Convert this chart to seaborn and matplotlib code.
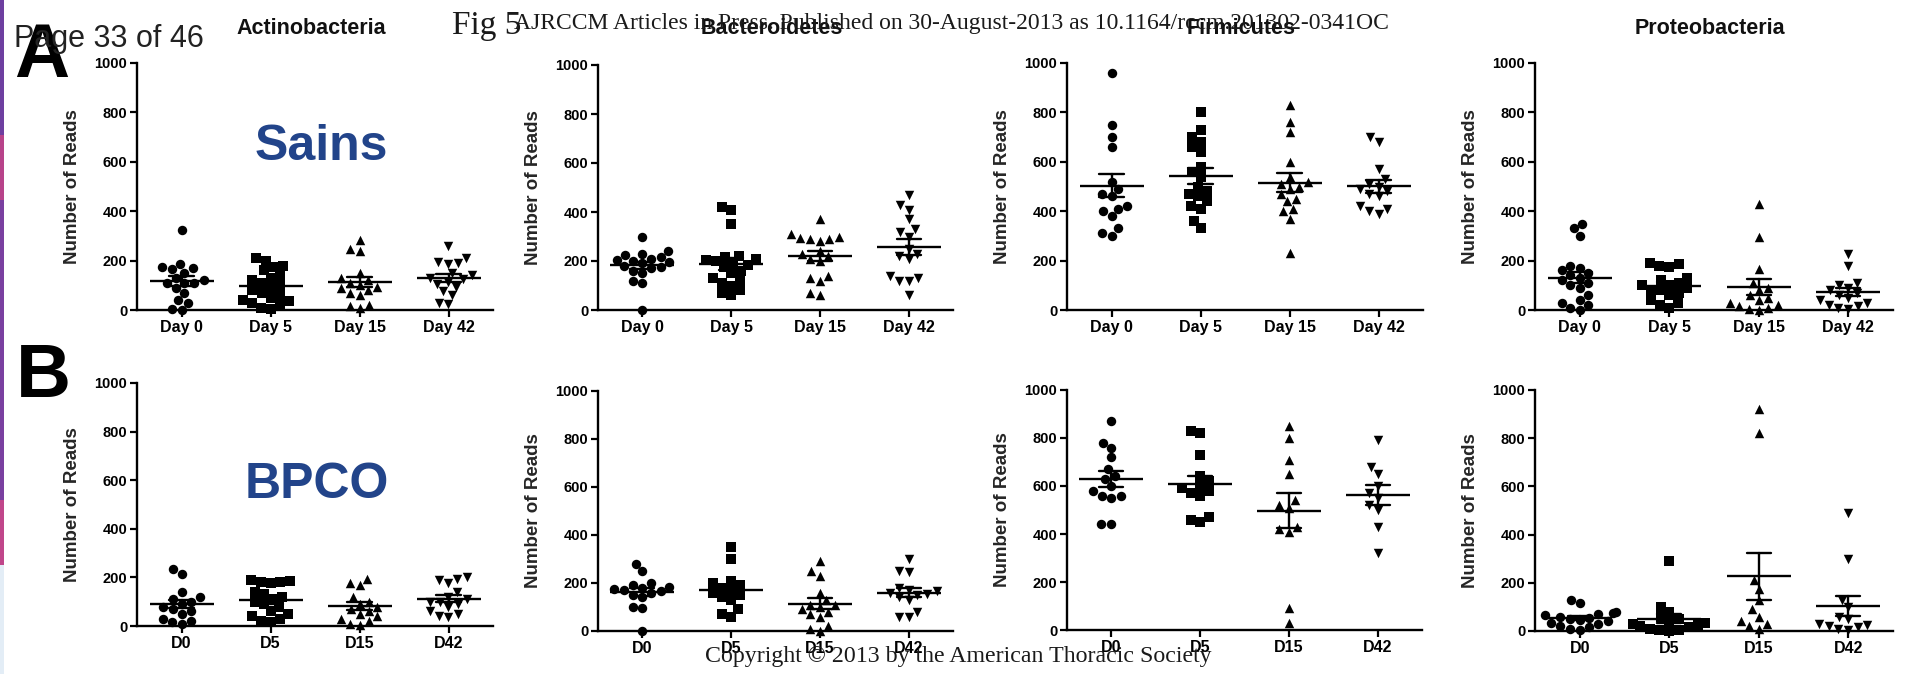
import numpy as np
import pandas as pd
import matplotlib
matplotlib.use("Agg")
import matplotlib.pyplot as plt
import seaborn as sns
from matplotlib.patches import Rectangle

# ---------------- data ----------------
phyla = ["Actinobacteria", "Bacteroidetes", "Firmicutes", "Proteobacteria"]
days_sains = ["Day 0", "Day 5", "Day 15", "Day 42"]
days_bpco = ["D0", "D5", "D15", "D42"]
y_ticks = [0, 200, 400, 600, 800, 1000]

# Sains (healthy) - Number of Reads
actino_sains_d0 = [325, 185, 175, 170, 165, 150, 130, 120, 110, 110, 110, 90, 70, 40, 30, 5, 0]
actino_sains_d5 = [210, 200, 180, 175, 160, 140, 130, 120, 110, 100, 90, 80, 70, 60, 50, 40, 35, 30, 20, 10, 5]
actino_sains_d15 = [285, 245, 240, 150, 130, 120, 110, 100, 95, 90, 80, 70, 60, 20, 15, 10]
actino_sains_d42 = [260, 210, 195, 190, 185, 150, 140, 130, 125, 115, 105, 95, 75, 60, 30, 25]

bactero_sains_d0 = [300, 240, 230, 225, 215, 210, 205, 200, 195, 190, 180, 175, 170, 160, 150, 120, 110, 0]
bactero_sains_d5 = [420, 410, 350, 220, 215, 210, 205, 200, 190, 185, 175, 160, 150, 130, 120, 110, 100, 80, 70, 60]
bactero_sains_d15 = [370, 310, 300, 295, 290, 290, 280, 240, 230, 220, 210, 200, 140, 130, 120, 70, 60]
bactero_sains_d42 = [470, 430, 410, 370, 330, 320, 300, 250, 230, 220, 210, 140, 130, 120, 120, 60]

firmi_sains_d0 = [960, 750, 700, 660, 520, 490, 470, 460, 420, 410, 400, 380, 330, 310, 300]
firmi_sains_d5 = [800, 730, 700, 680, 660, 640, 580, 560, 540, 500, 480, 470, 460, 440, 420, 410, 360, 330]
firmi_sains_d15 = [830, 760, 720, 600, 540, 520, 510, 500, 490, 470, 450, 440, 410, 400, 370, 230]
firmi_sains_d42 = [700, 680, 570, 530, 510, 500, 490, 480, 470, 460, 420, 410, 400, 390]

proteo_sains_d0 = [350, 330, 300, 180, 170, 160, 150, 140, 130, 120, 110, 100, 90, 60, 40, 30, 20, 10, 0]
proteo_sains_d5 = [190, 185, 180, 175, 130, 120, 110, 100, 100, 90, 80, 80, 70, 60, 40, 30, 20, 10]
proteo_sains_d15 = [430, 295, 165, 110, 90, 80, 60, 50, 40, 30, 20, 15, 10, 5, 0]
proteo_sains_d42 = [225, 180, 110, 100, 90, 80, 70, 60, 50, 40, 30, 20, 15, 10, 5]

# BPCO (COPD) - Number of Reads
actino_bpco_d0 = [235, 215, 140, 120, 110, 100, 90, 80, 70, 60, 50, 30, 20, 15, 10]
actino_bpco_d5 = [190, 185, 180, 180, 175, 140, 130, 120, 110, 100, 90, 80, 60, 50, 40, 30, 20, 15]
actino_bpco_d15 = [195, 175, 170, 120, 100, 90, 80, 70, 60, 50, 40, 30, 20, 10, 5]
actino_bpco_d42 = [200, 195, 190, 175, 140, 120, 110, 100, 100, 90, 80, 60, 50, 40, 35]

bactero_bpco_d0 = [280, 250, 200, 190, 185, 180, 175, 170, 165, 160, 150, 140, 100, 95, 0]
bactero_bpco_d5 = [350, 300, 210, 200, 190, 180, 170, 160, 150, 140, 130, 90, 70, 60]
bactero_bpco_d15 = [290, 250, 230, 160, 130, 110, 110, 100, 90, 80, 70, 60, 20, 10, 0]
bactero_bpco_d42 = [300, 250, 245, 180, 170, 165, 160, 155, 150, 140, 130, 80, 60, 60]

firmi_bpco_d0 = [870, 780, 760, 720, 670, 640, 630, 600, 580, 560, 560, 550, 440, 440]
firmi_bpco_d5 = [830, 820, 730, 640, 620, 600, 590, 580, 570, 560, 470, 460, 450]
firmi_bpco_d15 = [850, 800, 710, 650, 540, 520, 510, 430, 420, 410, 90, 30]
firmi_bpco_d42 = [790, 680, 650, 600, 570, 550, 520, 500, 430, 320]

proteo_bpco_d0 = [130, 115, 80, 75, 70, 65, 60, 55, 50, 45, 40, 35, 30, 20, 15, 10, 5]
proteo_bpco_d5 = [290, 100, 80, 60, 50, 40, 35, 30, 25, 20, 15, 10, 5, 5, 0]
proteo_bpco_d15 = [920, 820, 210, 175, 130, 90, 60, 40, 30, 20, 10]
proteo_bpco_d42 = [490, 300, 130, 100, 60, 50, 30, 25, 20, 15, 10, 5]

sains_series = [
    [actino_sains_d0, actino_sains_d5, actino_sains_d15, actino_sains_d42],
    [bactero_sains_d0, bactero_sains_d5, bactero_sains_d15, bactero_sains_d42],
    [firmi_sains_d0, firmi_sains_d5, firmi_sains_d15, firmi_sains_d42],
    [proteo_sains_d0, proteo_sains_d5, proteo_sains_d15, proteo_sains_d42],
]
bpco_series = [
    [actino_bpco_d0, actino_bpco_d5, actino_bpco_d15, actino_bpco_d42],
    [bactero_bpco_d0, bactero_bpco_d5, bactero_bpco_d15, bactero_bpco_d42],
    [firmi_bpco_d0, firmi_bpco_d5, firmi_bpco_d15, firmi_bpco_d42],
    [proteo_bpco_d0, proteo_bpco_d5, proteo_bpco_d15, proteo_bpco_d42],
]

# ---------------- style ----------------
sns.set_theme(style="ticks")
plt.rcParams["font.family"] = ["Liberation Sans", "DejaVu Sans"]

W, H = 1916, 674
fig = plt.figure(figsize=(W / 100, H / 100), dpi=100)
fig.patch.set_facecolor("white")

# axes rectangles in pixels: (left, right, top, bottom)
rects_top = [(137, 493, 63, 310), (598, 953, 65, 310), (1067, 1423, 63, 310), (1535, 1893, 63, 310)]
rects_bot = [(137, 493, 383, 626), (598, 953, 391, 631), (1067, 1422, 390, 630), (1535, 1893, 390, 631)]
markers = ["o", "s", "^", "v"]


def make_axes(r):
    l, rr, t, b = r
    return fig.add_axes([l / W, 1 - b / H, (rr - l) / W, (b - t) / H])


def draw_panel(ax, series, order):
    df = pd.DataFrame(
        [(order[j], v) for j, vals in enumerate(series) for v in vals],
        columns=["day", "reads"],
    )
    for j, day in enumerate(order):
        sub = df[df["day"] == day]
        sns.swarmplot(data=sub, x="day", y="reads", order=order, marker=markers[j],
                      color="black", size=6.8, linewidth=0, ax=ax, clip_on=False,
                      warn_thresh=1.0, zorder=3)
    sns.pointplot(data=df, x="day", y="reads", order=order, errorbar="se",
                  color="black", marker="_", linestyle="none", markersize=46,
                  markeredgewidth=1.7, capsize=0.27, err_kws={"linewidth": 1.7},
                  ax=ax, zorder=5)
    ax.set_xlim(-0.5, 3.5)
    ax.set_ylim(0, 1000)
    ax.set_yticks(y_ticks)
    ax.set_yticklabels([str(t) for t in y_ticks], fontsize=10.5, fontweight="bold")
    ax.set_xticks(range(4))
    ax.set_xticklabels(order, fontsize=11.5, fontweight="bold")
    ax.set_xlabel("")
    ax.set_ylabel("Number of Reads", fontsize=13.5, fontweight="bold")
    ax.yaxis.set_label_coords(-56 / ax.bbox.width, 0.5)
    sns.despine(ax=ax)
    for s in ["left", "bottom"]:
        ax.spines[s].set_linewidth(1.7)
        ax.spines[s].set_color("black")
    ax.tick_params(axis="both", length=5, width=1.6, direction="out", colors="black", pad=2)
    ax.set_facecolor("none")


for i in range(4):
    ax = make_axes(rects_top[i])
    draw_panel(ax, sains_series[i], days_sains)
    l, rr, t, b = rects_top[i]
    fig.text((l + rr) / 2 / W - 4 / W, 1 - 29 / H, phyla[i], ha="center", va="center",
             fontsize=15.5, fontweight="bold", color="#111111")

for i in range(4):
    ax = make_axes(rects_bot[i])
    draw_panel(ax, bpco_series[i], days_bpco)

# group labels
blue = "#22448A"
fig.text(321 / W, 1 - 160 / H, "Sains", ha="center", va="baseline", fontsize=36,
         fontweight="bold", color=blue)
fig.text(317 / W, 1 - 498 / H, "BPCO", ha="center", va="baseline", fontsize=36,
         fontweight="bold", color=blue)

# panel letters
fig.text(14 / W, 1 - 77 / H, "A", ha="left", va="baseline", fontsize=55, fontweight="bold", color="black")
fig.text(16 / W, 1 - 397 / H, "B", ha="left", va="baseline", fontsize=55, fontweight="bold", color="black")

# page header overlays
fig.text(14 / W, 1 - 47 / H, "Page 33 of 46", ha="left", va="baseline", fontsize=22, color="#222222")
fig.text(452 / W, 1 - 34 / H, "Fig 5", ha="left", va="baseline", fontsize=24,
         family=["Liberation Serif", "DejaVu Serif"], color="#1a1a1a")
fig.text(514 / W, 1 - 29 / H,
         "AJRCCM Articles in Press. Published on 30-August-2013 as 10.1164/rccm.201302-0341OC",
         ha="left", va="baseline", fontsize=17, family=["Liberation Serif", "DejaVu Serif"], color="#1a1a1a")
fig.text(705 / W, 1 - 662 / H, "Copyright \u00a9 2013 by the American Thoracic Society",
         ha="left", va="baseline", fontsize=17.2, family=["Liberation Serif", "DejaVu Serif"], color="#1a1a1a")

# coloured left edge strip
strip = [(0, 135, "#6E3FA0"), (135, 200, "#B8438A"), (200, 500, "#7A40A0"), (500, 565, "#C0468A"), (565, 674, "#E3EDF6")]
for y0, y1, c in strip:
    fig.patches.append(Rectangle((0, 1 - y1 / H), 4 / W, (y1 - y0) / H, transform=fig.transFigure,
                                 facecolor=c, edgecolor="none", zorder=10))

fig.savefig("out.png", dpi=100, facecolor="white")
